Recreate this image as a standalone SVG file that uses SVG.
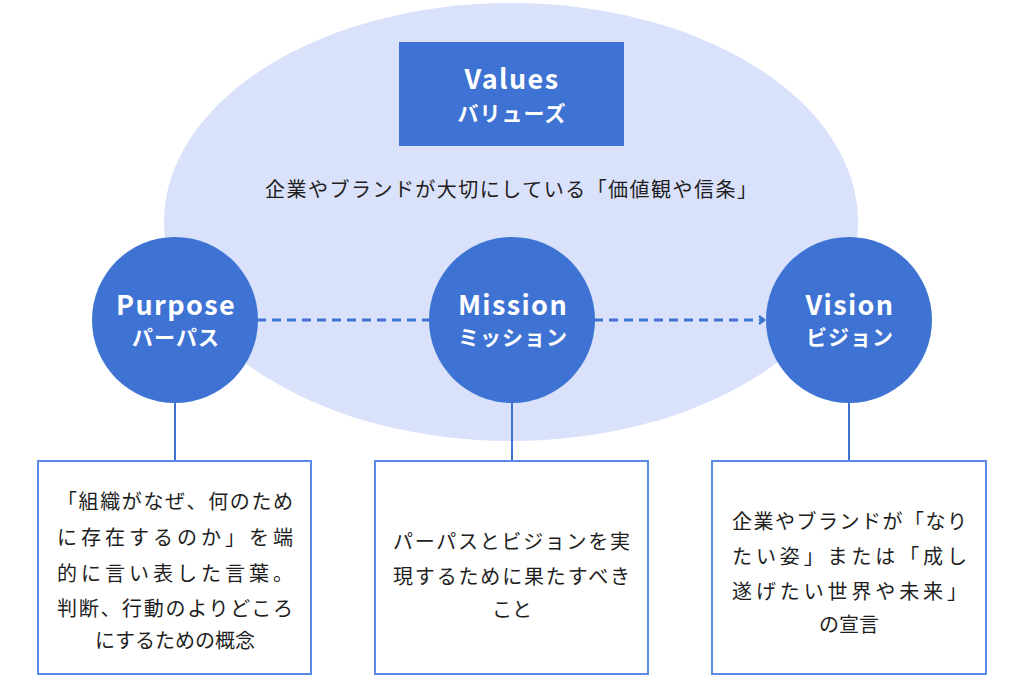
<svg xmlns="http://www.w3.org/2000/svg" width="1024" height="683" viewBox="0 0 1024 683">
<defs>
<style>
.bg{fill:#dae1fa}
.blue{fill:#3e73d3}
.title{font-family:"Noto Sans CJK JP","Noto Sans",sans-serif;font-weight:bold;fill:#fff;text-anchor:middle}
.t1{font-size:27px;letter-spacing:1.4px}
.t2{font-size:21px;letter-spacing:1px}
.body{font-family:"Noto Sans CJK JP","Noto Sans",sans-serif;font-size:20px;fill:#1e1e1e;font-weight:normal}
.mid{text-anchor:middle}
.box{fill:#fff;stroke:#5a8ae4;stroke-width:2}
.conn{stroke:#3e73d3;stroke-width:2;fill:none}
.dash{stroke:#3e73d3;stroke-width:3;stroke-dasharray:9 6;fill:none}
</style>
<marker id="chev" viewBox="0 0 10 10" refX="8" refY="5" markerWidth="10" markerHeight="10" markerUnits="userSpaceOnUse" orient="auto">
<path d="M3,1 L8,5 L3,9" fill="none" stroke="#3e73d3" stroke-width="2.5"/>
</marker>
</defs>
<rect width="1024" height="683" fill="#fff"/>
<g id="values">
<ellipse class="bg" cx="511" cy="222" rx="347" ry="219"/>
<rect class="blue" x="399" y="42" width="225" height="104"/>
<text class="title t1" x="512" y="89">Values</text>
<text class="title t2" x="512" y="121">バリューズ</text>
<text class="body mid" x="511" y="197" textLength="492" lengthAdjust="spacing">企業やブランドが大切にしている「価値観や信条」</text>
</g>
<g id="connectors">
<line class="dash" x1="257" y1="320" x2="429" y2="320"/>
<line class="dash" x1="594" y1="320" x2="764" y2="320" marker-end="url(#chev)"/>
<line class="conn" x1="175" y1="402" x2="175" y2="461"/>
<line class="conn" x1="512" y1="402" x2="512" y2="461"/>
<line class="conn" x1="849" y1="402" x2="849" y2="461"/>
</g>
<g id="purpose">
<circle class="blue" cx="175" cy="320" r="83"/>
<text class="title t1" x="176" y="315">Purpose</text>
<text class="title t2" x="176" y="345">パーパス</text>
</g>
<g id="mission">
<circle class="blue" cx="512" cy="320" r="83"/>
<text class="title t1" x="513" y="315">Mission</text>
<text class="title t2" x="513" y="345">ミッション</text>
</g>
<g id="vision">
<circle class="blue" cx="849" cy="320" r="83"/>
<text class="title t1" x="850" y="315">Vision</text>
<text class="title t2" x="850" y="345">ビジョン</text>
</g>
<g id="purpose-desc">
<rect class="box" x="38" y="461" width="273" height="213"/>
<text class="body" x="57" y="509" textLength="236" lengthAdjust="spacing">「組織がなぜ、何のため</text>
<text class="body" x="57" y="545" textLength="236" lengthAdjust="spacing">に存在するのか」を端</text>
<text class="body" x="57" y="581" textLength="236" lengthAdjust="spacing">的に言い表した言葉。</text>
<text class="body" x="57" y="616" textLength="236" lengthAdjust="spacing">判断、行動のよりどころ</text>
<text class="body mid" x="175" y="648">にするための概念</text>
</g>
<g id="mission-desc">
<rect class="box" x="375" y="461" width="273" height="213"/>
<text class="body" x="393" y="549" textLength="237" lengthAdjust="spacing">パーパスとビジョンを実</text>
<text class="body" x="393" y="584" textLength="237" lengthAdjust="spacing">現するために果たすべき</text>
<text class="body mid" x="512" y="617">こと</text>
</g>
<g id="vision-desc">
<rect class="box" x="712" y="461" width="274" height="213"/>
<text class="body" x="732" y="529" textLength="235" lengthAdjust="spacing">企業やブランドが「なり</text>
<text class="body" x="732" y="564" textLength="235" lengthAdjust="spacing">たい姿」または「成し</text>
<text class="body" x="732" y="599" textLength="235" lengthAdjust="spacing">遂げたい世界や未来」</text>
<text class="body mid" x="849" y="632">の宣言</text>
</g>
</svg>
